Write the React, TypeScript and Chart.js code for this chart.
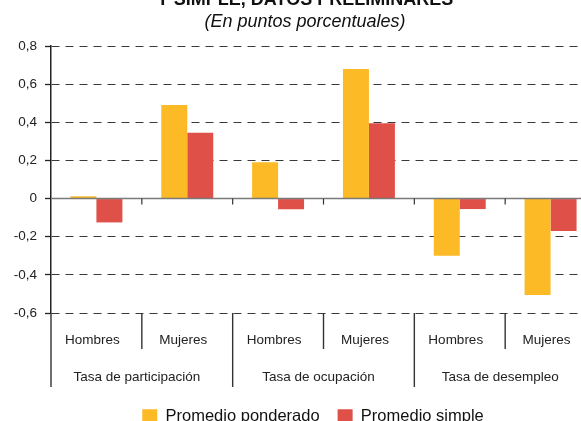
import React, { useEffect, useRef } from 'react';
import { Chart, registerables } from 'chart.js';

Chart.register(...registerables);

const FONT = '"Liberation Sans", Arial, Helvetica, sans-serif';

const titleLine = 'Y SIMPLE, DATOS PRELIMINARES';
const subtitleLine = '(En puntos porcentuales)';
const groups = ['Tasa de participación', 'Tasa de ocupación', 'Tasa de desempleo'];
const categories = ['Hombres', 'Mujeres', 'Hombres', 'Mujeres', 'Hombres', 'Mujeres'];
const seriesNames = ['Promedio ponderado', 'Promedio simple'];
const ponderado = [0.012, 0.49, 0.19, 0.68, -0.3, -0.505];
const simple = [-0.125, 0.345, -0.056, 0.395, -0.055, -0.17];
const yMin = -0.6;
const yMax = 0.8;
const yStep = 0.2;

const colors = ['#FBBA26', '#DF5049'];

const fmt = (v: number) => {
  const r = Math.round(v * 10) / 10;
  if (r === 0) return '0';
  return r.toFixed(1).replace('.', ',');
};

const decorPlugin = {
  id: 'decor',
  afterLayout(chart: any) {
    if (chart.legend) {
      chart.legend.left += 15;
      chart.legend.right += 15;
    }
  },
  afterDatasetsDraw(chart: any) {
    const { ctx, chartArea, scales } = chart;
    const x = scales.x;
    const y = scales.y;
    const y0 = y.getPixelForValue(0);
    ctx.save();
    ctx.strokeStyle = '#7a7a7a';
    ctx.lineWidth = 1.5;
    ctx.beginPath();
    ctx.moveTo(chartArea.left, y0);
    ctx.lineTo(chartArea.right, y0);
    ctx.stroke();
    ctx.strokeStyle = '#333';
    ctx.lineWidth = 1.2;
    for (let i = 1; i < categories.length; i++) {
      const bx = (x.getPixelForValue(i - 1) + x.getPixelForValue(i)) / 2;
      ctx.beginPath();
      ctx.moveTo(bx, y0);
      ctx.lineTo(bx, y0 + 6);
      ctx.stroke();
    }
    ctx.restore();
  },
  afterDraw(chart: any) {
    const { ctx, chartArea, scales } = chart;
    const x = scales.x;
    const bottom = chartArea.bottom;
    ctx.save();
    // dividers below axis
    ctx.strokeStyle = '#333';
    ctx.lineWidth = 1.4;
    ctx.beginPath();
    ctx.moveTo(chartArea.left, bottom);
    ctx.lineTo(chartArea.left, bottom + 74);
    ctx.stroke();
    for (let i = 1; i < categories.length; i++) {
      const bx = (x.getPixelForValue(i - 1) + x.getPixelForValue(i)) / 2;
      const major = i % 2 === 0;
      ctx.beginPath();
      ctx.moveTo(bx, bottom);
      ctx.lineTo(bx, bottom + (major ? 74 : 36));
      ctx.stroke();
    }
    // group labels
    ctx.fillStyle = '#222';
    ctx.font = `13.5px ${FONT}`;
    ctx.textAlign = 'center';
    ctx.textBaseline = 'middle';
    groups.forEach((g, gi) => {
      const cx = (x.getPixelForValue(gi * 2) + x.getPixelForValue(gi * 2 + 1)) / 2 - 5;
      ctx.fillText(g, cx, bottom + 64);
    });
    // titles
    ctx.fillStyle = '#111';
    ctx.textBaseline = 'alphabetic';
    ctx.font = `bold 18px ${FONT}`;
    ctx.fillText(titleLine, 305, 5);
    ctx.font = `italic 18px ${FONT}`;
    ctx.fillText(subtitleLine, 305, 27);
    ctx.restore();
  },
};

export default function App() {
  const ref = useRef<HTMLCanvasElement | null>(null);

  useEffect(() => {
    document.body.style.margin = '0';
    const canvas = ref.current;
    if (!canvas) return;
    const chart = new Chart(canvas, {
      type: 'bar',
      data: {
        labels: categories,
        datasets: [
          {
            label: seriesNames[0],
            data: ponderado,
            backgroundColor: colors[0],
            borderWidth: 0,
            categoryPercentage: 0.572,
            barPercentage: 1.0,
          },
          {
            label: seriesNames[1],
            data: simple,
            backgroundColor: colors[1],
            borderWidth: 0,
            categoryPercentage: 0.572,
            barPercentage: 1.0,
          },
        ],
      },
      options: {
        animation: false,
        responsive: false,
        devicePixelRatio: 1,
        layout: { padding: { top: 46, left: 0, right: 14, bottom: 1 } },
        plugins: {
          title: { display: false },
          tooltip: { enabled: false },
          legend: {
            display: true,
            position: 'bottom',
            labels: {
              boxWidth: 15,
              boxHeight: 15,
              padding: 18,
              color: '#111',
              font: { size: 16.5, family: FONT },
            },
          },
        },
        scales: {
          x: {
            offset: true,
            grid: { display: false, drawTicks: false },
            border: { display: false },
            ticks: {
              color: '#222',
              font: { size: 13.5, family: FONT },
              padding: 19,
              labelOffset: -4,
              maxRotation: 0,
              autoSkip: false,
            },
            afterFit: (scale: any) => {
              scale.height = 77.5;
            },
          },
          y: {
            min: yMin,
            max: yMax,
            ticks: {
              stepSize: yStep,
              color: '#222',
              font: { size: 13.5, family: FONT },
              padding: 8,
              callback: (v: any) => fmt(Number(v)),
            },
            grid: {
              color: (c: any) => (c.tick && Math.abs(c.tick.value) < 1e-9 ? 'rgba(0,0,0,0)' : '#3a3a3a'),
              lineWidth: 1,
              tickLength: 6,
              tickColor: '#222',
              tickWidth: 1.3,
              tickBorderDash: [],
            },
            border: { display: true, color: '#222', width: 1.5, dash: [8, 6] },
            afterFit: (scale: any) => {
              scale.width = 51;
            },
          },
        },
      },
      plugins: [decorPlugin],
    });
    return () => chart.destroy();
  }, []);

  return (
    <div style={{ width: 581, height: 421, overflow: 'hidden', position: 'relative', background: '#fff' }}>
      <canvas ref={ref} width={610} height={436} style={{ display: 'block' }} />
    </div>
  );
}
